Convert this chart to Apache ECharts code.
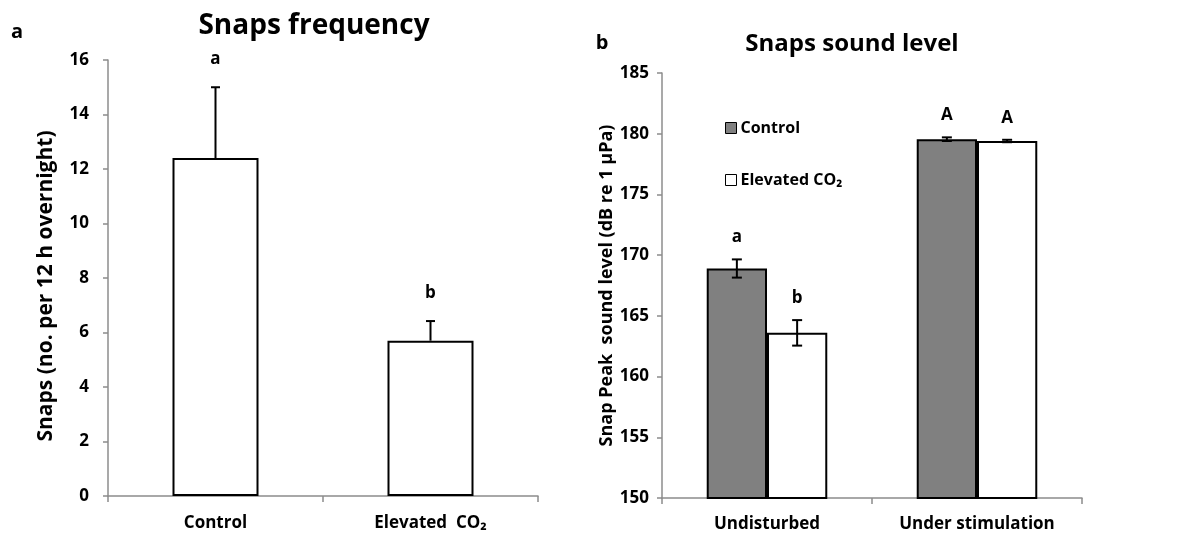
<!DOCTYPE html>
<html>
<head>
<meta charset="utf-8">
<style>
  html, body { margin: 0; padding: 0; background: #fff; }
  #chart { width: 1182px; height: 537px; }
</style>
<script src="https://cdn.jsdelivr.net/npm/echarts@6/dist/echarts.min.js"></script>
</head>
<body>
<div id="chart"></div>
<script>
// Panel a: snap frequency
const freqCategories = ['Control', 'Elevated  CO₂'];
const freqMeans = [12.4, 5.7];
const freqErrors = [2.6, 0.72];
const freqLetters = ['a', 'b'];

// Panel b: snap peak sound level
const levelCategories = ['Undisturbed', 'Under stimulation'];
const levelControl = [168.9, 179.55];
const levelControlErr = [0.75, 0.15];
const levelElevated = [163.6, 179.4];
const levelElevatedErr = [1.05, 0.1];
const levelControlLetters = ['a', 'A'];
const levelElevatedLetters = ['b', 'A'];

const FONT = '"Open Sans", Lato, sans-serif';
const AXIS_GREY = '#8c8c8c';

// Error bar with an optional lower whisker, plus the significance letter above it
function errorBarRenderer(means, errs, letters, opts) {
  return function (params, api) {
    const i = params.dataIndex;
    const band = api.size([1, 0])[0];
    const xShift = band * opts.shift;
    const top = api.coord([i, means[i] + errs[i]]);
    const bot = api.coord([i, opts.twoSided ? means[i] - errs[i] : means[i]]);
    const x = top[0] + xShift;
    const half = opts.cap / 2;
    const children = [
      { type: 'line', shape: { x1: x, y1: top[1], x2: x, y2: bot[1] }, style: { stroke: '#000', lineWidth: 2 } },
      { type: 'line', shape: { x1: x - half, y1: top[1], x2: x + half, y2: top[1] }, style: { stroke: '#000', lineWidth: 2 } }
    ];
    if (opts.twoSided) {
      children.push({ type: 'line', shape: { x1: x - half, y1: bot[1], x2: x + half, y2: bot[1] }, style: { stroke: '#000', lineWidth: 2 } });
    }
    children.push({
      type: 'text',
      style: {
        text: letters[i], x: x, y: top[1] - opts.letterGap,
        textAlign: 'center', textVerticalAlign: 'middle',
        font: 'bold 17px ' + FONT, fill: '#000'
      }
    });
    return { type: 'group', children: children };
  };
}

function valueAxis(gridIndex, min, max, interval, name, nameGap, nameSize, namePadding, labelMargin) {
  return {
    type: 'value', gridIndex: gridIndex, min: min, max: max, interval: interval,
    name: name, nameLocation: 'middle', nameGap: nameGap,
    nameTextStyle: { fontFamily: FONT, fontWeight: 'bold', fontSize: nameSize, color: '#000', padding: namePadding },
    axisLine: { show: true, lineStyle: { color: AXIS_GREY, width: 1.5 } },
    axisTick: { show: true, length: 5, lineStyle: { color: AXIS_GREY, width: 1.5 } },
    axisLabel: { fontFamily: FONT, fontWeight: 'bold', fontSize: 17, color: '#000', margin: labelMargin },
    splitLine: { show: false }
  };
}

function categoryAxis(gridIndex, data, margin) {
  return {
    type: 'category', gridIndex: gridIndex, data: data,
    axisLine: { show: true, lineStyle: { color: AXIS_GREY, width: 1.5 } },
    axisTick: { show: true, length: 6, lineStyle: { color: AXIS_GREY, width: 1.5 } },
    axisLabel: { fontFamily: FONT, fontWeight: 'bold', fontSize: 17, color: '#000', margin: margin }
  };
}

const chart = echarts.init(document.getElementById('chart'), null, { renderer: 'canvas' });

chart.setOption({
  animation: false,
  backgroundColor: '#fff',
  graphic: [
    { type: 'text', x: 17, y: 32, style: { text: 'a', textAlign: 'center', textVerticalAlign: 'middle', font: 'bold 20px ' + FONT, fill: '#000' } },
    { type: 'text', x: 314, y: 26, style: { text: 'Snaps frequency', textAlign: 'center', textVerticalAlign: 'middle', font: 'bold 28px ' + FONT, fill: '#000' } },
    { type: 'text', x: 602, y: 43, style: { text: 'b', textAlign: 'center', textVerticalAlign: 'middle', font: 'bold 20px ' + FONT, fill: '#000' } },
    { type: 'text', x: 852, y: 44, style: { text: 'Snaps sound level', textAlign: 'center', textVerticalAlign: 'middle', font: 'bold 24px ' + FONT, fill: '#000' } }
  ],
  legend: {
    data: ['Control', 'Elevated CO₂'],
    orient: 'vertical', left: 720, top: 115, itemGap: 36,
    itemWidth: 11, itemHeight: 11, icon: 'rect',
    itemStyle: { borderWidth: 1, borderColor: '#000' },
    textStyle: { fontFamily: FONT, fontWeight: 'bold', fontSize: 16, color: '#000', padding: [0, 0, 0, -1] }
  },
  grid: [
    { left: 108, top: 60, width: 430, height: 436 },
    { left: 662, top: 73, width: 420, height: 425 }
  ],
  xAxis: [
    categoryAxis(0, freqCategories, 19),
    categoryAxis(1, levelCategories, 18)
  ],
  yAxis: [
    valueAxis(0, 0, 16, 2, 'Snaps (no. per 12 h overnight)', 51, 21, [0, 16, 0, 0], 19),
    valueAxis(1, 150, 185, 5, 'Snap Peak  sound level (dB re 1 μPa)', 46, 18, 0, 13)
  ],
  series: [
    {
      name: 'freq', type: 'bar', xAxisIndex: 0, yAxisIndex: 0,
      data: freqMeans, barWidth: '40%',
      itemStyle: { color: '#fff', borderColor: '#000', borderWidth: 2 }
    },
    {
      type: 'custom', xAxisIndex: 0, yAxisIndex: 0, data: freqMeans.map((v, i) => [i, v]),
      renderItem: errorBarRenderer(freqMeans, freqErrors, freqLetters, { shift: 0, cap: 9, twoSided: false, letterGap: 28 }),
      z: 5
    },
    {
      name: 'Control', type: 'bar', xAxisIndex: 1, yAxisIndex: 1,
      data: levelControl, barWidth: '28.7%', barGap: '0%',
      itemStyle: { color: '#808080', borderColor: '#000', borderWidth: 2 }
    },
    {
      name: 'Elevated CO₂', type: 'bar', xAxisIndex: 1, yAxisIndex: 1,
      data: levelElevated, barWidth: '28.7%', barGap: '0%',
      itemStyle: { color: '#fff', borderColor: '#000', borderWidth: 2 }
    },
    {
      type: 'custom', xAxisIndex: 1, yAxisIndex: 1, data: levelControl.map((v, i) => [i, v]),
      renderItem: errorBarRenderer(levelControl, levelControlErr, levelControlLetters, { shift: -0.1435, cap: 10, twoSided: true, letterGap: 22 }),
      z: 5
    },
    {
      type: 'custom', xAxisIndex: 1, yAxisIndex: 1, data: levelElevated.map((v, i) => [i, v]),
      renderItem: errorBarRenderer(levelElevated, levelElevatedErr, levelElevatedLetters, { shift: 0.1435, cap: 10, twoSided: true, letterGap: 22 }),
      z: 5
    }
  ]
});
</script>
</body>
</html>
